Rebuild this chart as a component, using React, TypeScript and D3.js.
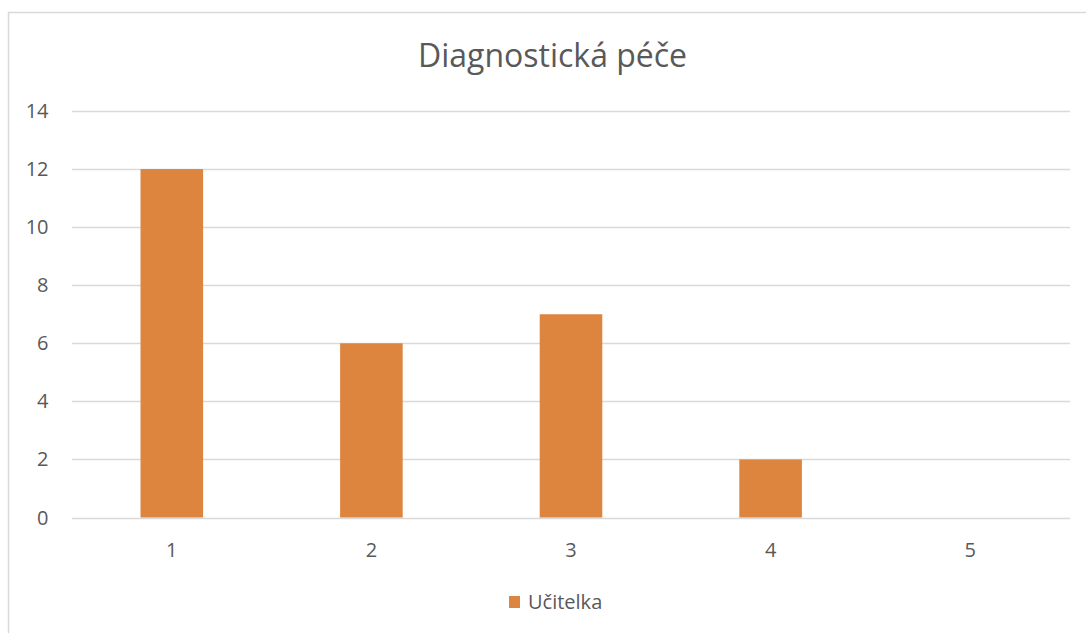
import React, { useEffect, useRef } from 'react';
import * as d3 from 'd3';

// data
const categories = ['1', '2', '3', '4', '5'];
const values = [12, 6, 7, 2, 0];
const yTicks = [0, 2, 4, 6, 8, 10, 12, 14];
const seriesName = 'Učitelka';
const title = 'Diagnostická péče';

const App: React.FC = () => {
  const svgRef = useRef<SVGSVGElement>(null);

  useEffect(() => {
    const width = 1086;
    const height = 633;
    const font = "'Open Sans', sans-serif";
    const textColor = '#595959';
    const gridColor = '#d9d9d9';
    const barColor = '#dd843f';

    const svg = d3.select(svgRef.current)
      .attr('width', width)
      .attr('height', height);
    svg.selectAll('*').remove();

    // chart frame
    svg.append('rect')
      .attr('x', 8.5)
      .attr('y', 12.5)
      .attr('width', 1100)
      .attr('height', 700)
      .attr('fill', '#fff')
      .attr('stroke', gridColor)
      .attr('stroke-width', 1.5);

    // title
    svg.append('text')
      .attr('x', 552.5)
      .attr('y', 67)
      .attr('text-anchor', 'middle')
      .attr('font-family', font)
      .attr('font-size', 32)
      .attr('fill', textColor)
      .text(title);

    const plot = { left: 72, right: 1070, top: 111, bottom: 517.5 };

    const x = d3.scaleBand<string>()
      .domain(categories)
      .range([plot.left, plot.right])
      .paddingInner(0)
      .paddingOuter(0);

    const y = d3.scaleLinear()
      .domain([0, 14])
      .range([plot.bottom, plot.top]);

    // gridlines
    svg.append('g')
      .selectAll('line')
      .data(yTicks)
      .enter().append('line')
      .attr('x1', plot.left)
      .attr('x2', plot.right)
      .attr('y1', (d) => Math.round(y(d)) + 0.5)
      .attr('y2', (d) => Math.round(y(d)) + 0.5)
      .attr('stroke', gridColor)
      .attr('stroke-width', 1.5);

    // y labels
    svg.append('g')
      .selectAll('text')
      .data(yTicks)
      .enter().append('text')
      .attr('x', 48.5)
      .attr('y', (d) => y(d) + 7)
      .attr('text-anchor', 'end')
      .attr('font-family', font)
      .attr('font-size', 20)
      .attr('fill', textColor)
      .text((d) => String(d));

    // bars
    const barW = x.bandwidth() / 3.19;
    svg.append('g')
      .selectAll('rect')
      .data(values)
      .enter().append('rect')
      .attr('x', (_d, i) => (x(categories[i]) as number) + (x.bandwidth() - barW) / 2)
      .attr('y', (d) => y(d))
      .attr('width', barW)
      .attr('height', (d) => plot.bottom - y(d))
      .attr('fill', barColor);

    // x labels
    svg.append('g')
      .selectAll('text')
      .data(categories)
      .enter().append('text')
      .attr('x', (d) => (x(d) as number) + x.bandwidth() / 2)
      .attr('y', 556.5)
      .attr('text-anchor', 'middle')
      .attr('font-family', font)
      .attr('font-size', 20)
      .attr('fill', textColor)
      .text((d) => d);

    // legend
    svg.append('rect')
      .attr('x', 509)
      .attr('y', 596)
      .attr('width', 11)
      .attr('height', 12)
      .attr('fill', barColor);
    svg.append('text')
      .attr('x', 528)
      .attr('y', 608.5)
      .attr('font-family', font)
      .attr('font-size', 20)
      .attr('fill', textColor)
      .text(seriesName);
  }, []);

  return (
    <svg ref={svgRef} style={{ position: 'absolute', left: 0, top: 0 }}></svg>
  );
};

export default App;
